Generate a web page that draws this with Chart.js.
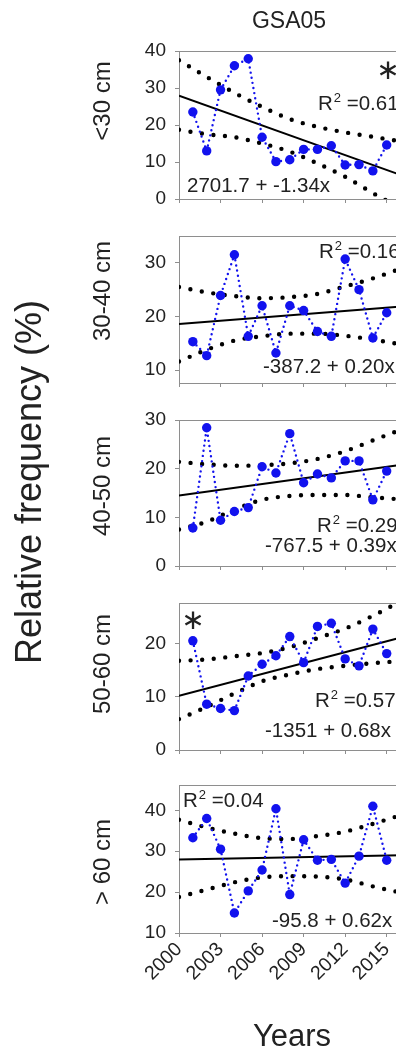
<!DOCTYPE html>
<html>
<head>
<meta charset="utf-8">
<title>GSA05 length classes</title>
<script src="https://cdn.jsdelivr.net/npm/chart.js@4.4.1/dist/chart.umd.min.js"></script>
<style>
  html, body { margin: 0; padding: 0; background: #fff; overflow: hidden; }
  #page { position: relative; width: 396px; height: 1050px; overflow: hidden; }
  #page canvas { position: absolute; left: 0; top: 0; }
</style>
</head>
<body>
<div id="page"></div>
<script>
// years on the x axis and the tick marks
const years     = [2001, 2002, 2003, 2004, 2005, 2006, 2007, 2008, 2009, 2010, 2011, 2012, 2013, 2014, 2015];
const bandYears = [2000, 2002, 2004, 2006, 2008, 2010, 2012, 2014, 2016];
const xTicks    = [2000, 2003, 2006, 2009, 2012, 2015];

// relative frequency (%) per length class
const lt30   = [23.5, 13.0, 29.5, 36.0, 37.9, 16.7, 10.1, 10.6, 13.4, 13.4, 14.4, 9.2, 9.3, 7.6, 14.6];
const cm3040 = [15.3, 12.7, 23.9, 31.5, 16.3, 22.0, 13.2, 22.0, 21.1, 17.2, 16.3, 30.7, 25.0, 16.0, 20.7];
const cm4050 = [7.8, 28.4, 9.4, 11.2, 12.0, 20.4, 19.1, 27.2, 17.1, 18.9, 18.1, 21.6, 21.6, 13.6, 19.5];
const cm5060 = [20.5, 8.6, 7.8, 7.4, 13.9, 16.1, 17.7, 21.3, 16.4, 23.2, 23.8, 17.1, 15.8, 22.7, 18.1];
const gt60   = [33.3, 38.0, 30.5, 14.9, 20.3, 25.4, 40.4, 19.4, 32.8, 27.8, 28.0, 22.2, 28.8, 41.0, 27.8];

// confidence bands (sampled at bandYears)
const lt30Upper   = [37.5, 33.0, 28.7, 24.9, 21.6, 19.5, 18.0, 16.8, 15.6];
const lt30Lower   = [18.7, 17.5, 16.7, 15.0, 12.8, 9.6, 6.0, 1.6, -2.5];
const cm3040Upper = [25.5, 24.5, 23.8, 23.4, 23.6, 24.2, 25.6, 27.1, 28.9];
const cm3040Lower = [11.6, 13.8, 15.5, 16.3, 16.8, 16.8, 16.4, 15.7, 14.8];
const cm4050Upper = [21.4, 20.9, 20.6, 20.7, 21.1, 22.0, 23.6, 25.8, 28.0];
const cm4050Lower = [7.5, 9.1, 11.6, 13.6, 14.4, 14.6, 14.6, 14.1, 13.7];
const cm5060Upper = [16.75, 17.0, 17.6, 18.2, 19.3, 21.0, 22.8, 25.2, 27.9];
const cm5060Lower = [5.8, 8.1, 10.6, 12.9, 14.2, 15.2, 15.8, 16.3, 16.7];
const gt60Upper   = [37.7, 35.8, 34.3, 33.2, 33.0, 33.7, 34.8, 36.7, 38.8];
const gt60Lower   = [18.8, 20.6, 22.4, 23.6, 23.9, 23.8, 23.1, 21.4, 19.9];

// linear fits: intercept + slope * year
const intercepts = [2701.7, -387.2, -767.5, -1351, -95.8];
const slopes     = [-1.3369, 0.2029, 0.3910, 0.6806, 0.0619];
const r2Labels   = ['0.61', '0.16', '0.29', '0.57', '0.04'];
const eqLabels   = ['2701.7 + -1.34x', '-387.2 + 0.20x', '-767.5 + 0.39x', '-1351 + 0.68x', '-95.8 + 0.62x'];
const classNames = ['<30 cm', '30-40 cm', '40-50 cm', '50-60 cm', '> 60 cm'];

// y tick labels per panel
const yTicksLt30   = [0, 10, 20, 30, 40];
const yTicks3040   = [10, 20, 30];
const yTicks4050   = [0, 10, 20, 30];
const yTicks5060   = [0, 10, 20];
const yTicksGt60   = [10, 20, 30, 40];

const PAGE_H = 1050, CANVAS_W = 430;
const PLOT_LEFT = 179, PLOT_RIGHT = 414.4;
const X_AXIS_H = 60;
const X_MIN = 2000, X_MAX = 2017;
const FONT = '"Liberation Sans", Arial, sans-serif';
const TEXT = '#222';
const AXIS = '#8e8e8e';
const BLUE = '#1212ee';

const panels = [
  { values: lt30,   upper: lt30Upper,   lower: lt30Lower,   yTicks: yTicksLt30, top: 51,  bottom: 199, min: 0,   max: 40,
    r2At: [318, 110], eqAt: [187, 192], starAt: [388, 72] },
  { values: cm3040, upper: cm3040Upper, lower: cm3040Lower, yTicks: yTicks3040, top: 236, bottom: 383, min: 7.6, max: 35,
    r2At: [319, 258], eqAt: [263, 373] },
  { values: cm4050, upper: cm4050Upper, lower: cm4050Lower, yTicks: yTicks4050, top: 420, bottom: 566, min: 0,   max: 30,
    r2At: [317, 532], eqAt: [265, 552] },
  { values: cm5060, upper: cm5060Upper, lower: cm5060Lower, yTicks: yTicks5060, top: 603, bottom: 750, min: 0,   max: 27.6,
    r2At: [315, 707], eqAt: [265, 737], starAt: [193, 622] },
  { values: gt60,   upper: gt60Upper,   lower: gt60Lower,   yTicks: yTicksGt60, top: 785, bottom: 933, min: 10,  max: 46.2,
    r2At: [183, 807], eqAt: [272, 927] }
];
const classLabelY = [101, 291, 486, 664, 862];

const toPoints = (xs, ys) => xs.map((x, i) => ({ x, y: ys[i] }));

function drawR2(ctx, label, x, y) {
  ctx.font = `20.5px ${FONT}`;
  ctx.fillText('R', x, y);
  let cx = x + ctx.measureText('R').width + 1;
  ctx.font = `13px ${FONT}`;
  ctx.fillText('2', cx, y - 8);
  cx += ctx.measureText('2').width;
  ctx.font = `20.5px ${FONT}`;
  ctx.fillText(' =' + label, cx, y);
}

// box outline top edge, fit statistics and significance marks
const panelDecor = {
  id: 'panelDecor',
  afterDraw(chart, args, opts) {
    const { ctx, chartArea } = chart;
    const i = opts.index, p = panels[i];
    ctx.save();
    ctx.strokeStyle = AXIS;
    ctx.lineWidth = 1;
    ctx.beginPath();
    ctx.moveTo(chartArea.left, chartArea.top + 0.5);
    ctx.lineTo(chartArea.right, chartArea.top + 0.5);
    ctx.stroke();

    ctx.fillStyle = TEXT;
    ctx.textAlign = 'left';
    ctx.textBaseline = 'alphabetic';
    drawR2(ctx, r2Labels[i], p.r2At[0], p.r2At[1]);
    ctx.font = `20.5px ${FONT}`;
    ctx.fillText(eqLabels[i], p.eqAt[0], p.eqAt[1]);
    if (p.starAt) {
      ctx.font = '28px "DejaVu Sans", sans-serif';
      ctx.textAlign = 'center';
      ctx.textBaseline = 'middle';
      ctx.fillText('\u2217', p.starAt[0], p.starAt[1]);
    }
    ctx.restore();
  }
};

// title, shared axis titles and class names
const frameText = {
  id: 'frameText',
  afterDraw(chart) {
    const ctx = chart.ctx;
    ctx.save();
    ctx.fillStyle = TEXT;
    ctx.textAlign = 'center';
    ctx.textBaseline = 'alphabetic';
    ctx.font = `23px ${FONT}`;
    ctx.fillText('GSA05', 289, 28);
    ctx.font = `31px ${FONT}`;
    ctx.fillText('Years', 292, 1046);

    ctx.textBaseline = 'middle';
    ctx.save();
    ctx.translate(31, 482);
    ctx.rotate(-Math.PI / 2);
    ctx.font = `36px ${FONT}`;
    ctx.fillText('Relative frequency (%)', 0, 0);
    ctx.restore();

    ctx.font = `24px ${FONT}`;
    classNames.forEach((name, i) => {
      ctx.save();
      ctx.translate(103, classLabelY[i]);
      ctx.rotate(-Math.PI / 2);
      ctx.fillText(name, 0, 0);
      ctx.restore();
    });
    ctx.restore();
  }
};

const page = document.getElementById('page');

panels.forEach((p, i) => {
  const canvas = document.createElement('canvas');
  canvas.width = CANVAS_W;
  canvas.height = PAGE_H;
  page.appendChild(canvas);
  const isLast = i === panels.length - 1;
  const m = slopes[i], b = intercepts[i];

  new Chart(canvas, {
    type: 'scatter',
    data: {
      datasets: [
        {
          data: toPoints(years, p.values),
          showLine: true,
          borderColor: BLUE,
          borderWidth: 2.4,
          borderDash: [0, 5.2],
          borderCapStyle: 'round',
          pointRadius: 4.7,
          pointBackgroundColor: BLUE,
          pointBorderWidth: 0
        },
        {
          data: [{ x: X_MIN, y: b + m * X_MIN }, { x: X_MAX, y: b + m * X_MAX }],
          showLine: true,
          borderColor: '#000',
          borderWidth: 2,
          pointRadius: 0
        },
        {
          data: toPoints(bandYears, p.upper),
          showLine: true,
          borderColor: '#000',
          borderWidth: 4.4,
          borderDash: [0, 11.6],
          borderCapStyle: 'round',
          cubicInterpolationMode: 'monotone',
          pointRadius: 0
        },
        {
          data: toPoints(bandYears, p.lower),
          showLine: true,
          borderColor: '#000',
          borderWidth: 4.4,
          borderDash: [0, 11.6],
          borderCapStyle: 'round',
          cubicInterpolationMode: 'monotone',
          pointRadius: 0
        }
      ]
    },
    options: {
      responsive: false,
      animation: false,
      events: [],
      layout: { padding: { top: p.top, bottom: PAGE_H - p.bottom - X_AXIS_H, left: 0, right: CANVAS_W - PLOT_RIGHT } },
      plugins: {
        legend: { display: false },
        tooltip: { enabled: false },
        panelDecor: { index: i }
      },
      scales: {
        x: {
          type: 'linear',
          min: X_MIN,
          max: X_MAX,
          afterBuildTicks: axis => { axis.ticks = xTicks.map(v => ({ value: v })); },
          afterFit: axis => { axis.height = X_AXIS_H; },
          ticks: {
            display: isLast,
            autoSkip: false,
            minRotation: 45,
            maxRotation: 45,
            padding: 1,
            color: TEXT,
            font: { family: FONT, size: 19.5 },
            callback: v => String(v)
          },
          grid: { drawOnChartArea: false, drawTicks: true, tickLength: 4, color: AXIS },
          border: { display: true, color: AXIS }
        },
        y: {
          min: p.min,
          max: p.max,
          afterBuildTicks: axis => { axis.ticks = p.yTicks.map(v => ({ value: v })); },
          afterFit: axis => { axis.width = PLOT_LEFT; },
          ticks: {
            padding: 9,
            color: TEXT,
            font: { family: FONT, size: 19 },
            callback: v => String(v)
          },
          grid: { drawOnChartArea: false, drawTicks: true, tickLength: 4, color: AXIS },
          border: { display: true, color: AXIS }
        }
      }
    },
    plugins: i === 0 ? [panelDecor, frameText] : [panelDecor]
  });
});
</script>
</body>
</html>
